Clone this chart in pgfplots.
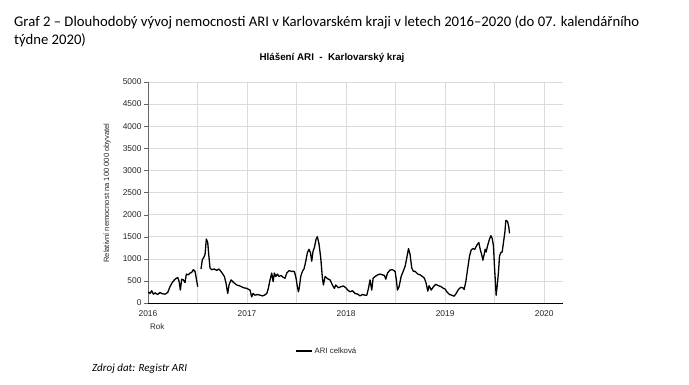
\documentclass[border=0pt]{standalone}
\usepackage{fontspec}
\setmainfont{Carlito}
\newfontfamily\arial{Liberation Sans}
\usepackage{pgfplots}
\pgfplotsset{compat=1.18}
\begin{document}
\begin{tikzpicture}[x=1pt,y=1pt]
\useasboundingbox (0,0) rectangle (689,-385);
\node[anchor=base west, inner sep=0, font=\fontsize{14.7}{17}\selectfont] at (14,-27) {Graf 2 – Dlouhodobý vývoj nemocnosti ARI v Karlovarském kraji v letech 2016–2020 (do 07. kalendářního};
\node[anchor=base west, inner sep=0, font=\fontsize{14.7}{17}\selectfont] at (14,-45) {týdne 2020)};
\node[anchor=base, inner sep=0, font=\arial\bfseries\fontsize{9.8}{11}\selectfont] at (332,-61) {Hlášení ARI\ \ -\ \ Karlovarský kraj};
\node[rotate=90, inner sep=0, font=\arial\fontsize{7.6}{9}\selectfont, text=black!85] at (107,-193) {Relativní nemocnost na 100 000 obyvatel};
\node[anchor=base west, inner sep=0, font=\arial\fontsize{8}{9}\selectfont, text=black!85] at (150,-330) {Rok};
\node[anchor=base west, inner sep=0, font=\itshape\fontsize{11}{13}\selectfont] at (92,-371) {Zdroj dat: Registr ARI};
\begin{axis}[
  at={(148pt,-303pt)}, anchor=south west,
  width=415pt, height=221pt, scale only axis,
  xmin=0, xmax=4.19, ymin=0, ymax=5000,
  axis x line=bottom, axis y line=left,
  axis line style={-},
  x axis line style={black, line width=0.9pt},
  y axis line style={black!60, line width=0.6pt},
  xtick={0,1,2,3,4},
  xticklabels={2016,2017,2018,2019,2020},
  major x tick style={draw=none},
  extra x ticks={0.5,1.5,2.5,3.5},
  extra x tick labels={},
  extra x tick style={tick align=outside, major tick length=3pt, tick style={black, line width=1.4pt}},
  ytick={0,500,...,5000},
  tick align=outside,
  major y tick style={black!60},
  major tick length=4pt,
  grid=major,
  grid style={black!14, line width=0.6pt},
  /pgf/number format/assume math mode=true,
  /pgf/number format/set thousands separator={},
  ticklabel style={font=\arial\fontsize{8.4}{9}\selectfont, text=black!85},
  yticklabel style={xshift=1pt},
  unbounded coords=jump,
  legend style={at={(0.431,-0.217)}, anchor=center, draw=none, fill=none, font=\arial\fontsize{7.8}{9}\selectfont, text=black!85},
  legend image code/.code={\draw[#1, line width=1.3pt] (0pt,0pt) -- (16pt,0pt);},
]
\addplot[black, line width=1.3pt, line join=round] coordinates {
(0.003,254)(0.020,215)(0.037,277)(0.054,200)(0.071,231)(0.098,192)(0.121,238)(0.145,208)(0.172,200)(0.199,238)(0.222,369)(0.246,469)(0.273,538)(0.300,577)(0.313,500)(0.327,292)(0.340,538)(0.357,523)(0.374,461)(0.387,654)(0.407,638)(0.424,677)(0.441,692)(0.458,754)(0.475,715)(0.492,500)(0.502,369)
(0.52,nan)
(0.535,769)(0.549,985)(0.562,1023)(0.576,1100)(0.589,1446)(0.603,1369)(0.613,1100)(0.626,792)(0.643,754)(0.670,769)(0.694,738)(0.717,769)(0.744,692)(0.771,600)(0.788,446)(0.805,215)(0.818,408)(0.838,523)(0.862,469)(0.896,408)(0.929,385)(0.963,346)(0.997,331)
(1.030,292)(1.047,138)(1.061,215)(1.081,177)(1.108,192)(1.131,177)(1.155,161)(1.175,177)(1.199,215)(1.215,331)(1.232,523)(1.249,677)(1.263,485)(1.276,677)(1.290,600)(1.306,654)(1.323,600)(1.343,623)(1.367,577)(1.384,561)(1.401,677)(1.424,731)(1.451,715)(1.478,715)(1.495,561)(1.508,369)(1.519,254)(1.529,369)(1.542,600)(1.559,715)(1.576,777)(1.593,946)(1.609,1138)(1.626,1215)(1.640,1138)(1.653,946)(1.667,1177)(1.680,1254)(1.697,1446)(1.710,1500)(1.727,1331)(1.744,1023)(1.761,561)(1.771,408)(1.788,600)(1.815,546)(1.838,523)(1.862,408)(1.882,331)(1.896,408)(1.922,346)(1.949,369)(1.973,385)(1.997,346)
(2.017,292)(2.040,254)(2.064,277)(2.091,215)(2.118,200)(2.141,161)(2.165,192)(2.192,177)(2.209,177)(2.226,331)(2.242,523)(2.259,292)(2.273,561)(2.293,600)(2.320,638)(2.343,654)(2.367,638)(2.387,623)(2.401,538)(2.418,677)(2.444,746)(2.468,754)(2.495,715)(2.505,561)(2.519,292)(2.535,369)(2.556,600)(2.579,731)(2.596,831)(2.613,1023)(2.630,1231)(2.646,1100)(2.663,792)(2.680,715)(2.697,715)(2.724,654)(2.747,638)(2.771,600)(2.791,561)(2.808,446)(2.825,269)(2.838,392)(2.859,292)(2.882,369)(2.906,423)(2.933,392)(2.960,369)(2.983,331)(3.000,315)(3.017,254)(3.034,215)
(3.044,192)(3.067,177)(3.091,154)(3.111,215)(3.135,308)(3.158,354)(3.178,346)(3.192,308)(3.209,485)(3.226,754)(3.246,1061)(3.263,1200)(3.280,1231)(3.300,1215)(3.320,1307)(3.340,1369)(3.354,1215)(3.371,1077)(3.381,969)(3.394,1100)(3.404,1215)(3.414,1154)(3.428,1292)(3.448,1446)(3.462,1523)(3.475,1461)(3.488,1292)(3.498,831)(3.508,446)(3.515,177)(3.529,461)(3.539,715)(3.549,1061)(3.562,1138)(3.576,1154)(3.589,1369)(3.603,1600)(3.613,1869)(3.630,1846)(3.643,1715)(3.650,1577)
};
\addlegendentry{ARI celková}
\end{axis}
\end{tikzpicture}
\end{document}
